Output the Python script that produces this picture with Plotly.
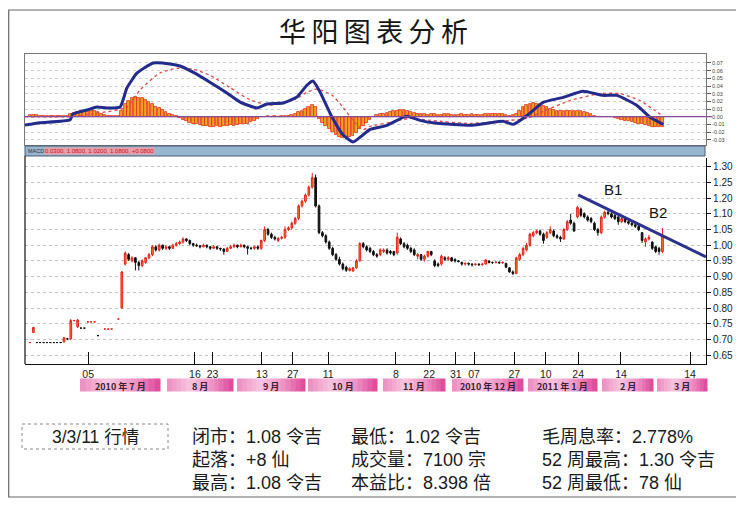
import plotly.graph_objects as go

# page body has an 8px margin; figure sized to fill the rest of the 744x505 window
OX, OY = 8, 8
W, H = 744 - OX, 505 - OY

# ---------------- DATA ----------------
# daily bars (trading-day index), None = no trade
opens = [0.74, 0.772, 0.74, 0.74, 0.74, 0.74, 0.74, 0.74, 0.74, 0.74,
         0.742, 0.752, 0.752, 0.81, 0.79, 0.786, 0.786, 0.806, 0.806, 0.806,
         0.762, None, 0.783, 0.783, 0.783, None, 0.815, 0.85, 0.99, 1.02,
         1.0, 1.01, 0.995, 0.985, 0.995, 1.01, 1.02, 1.045, 1.035, 1.05,
         1.04, 1.045, 1.04, 1.05, 1.055, 1.06, 1.07, 1.065, 1.055, 1.05,
         1.048, 1.045, 1.05, 1.045, 1.04, 1.045, 1.04, 1.038, 1.03, 1.04,
         1.045, 1.05, 1.045, 1.05, 1.045, 1.04, 1.04, 1.045, 1.04, 1.065,
         1.1, 1.085, 1.075, 1.065, 1.072, 1.075, 1.1, 1.105, 1.12, 1.135,
         1.175, 1.19, 1.21, 1.235, 1.265, 1.175, 1.09, 1.08, 1.06, 1.04,
         1.02, 1.005, 0.99, 0.98, 0.97, 0.968, 0.978, 1.0, 1.055, 1.045,
         1.04, 1.03, 1.02, 1.02, 1.03, 1.035, 1.03, 1.03, 1.025, 1.07,
         1.055, 1.05, 1.04, 1.035, 1.015, 1.02, 1.005, 1.015, 1.03, 1.0,
         0.99, 0.99, 1.01, 1.005, 1.01, 1.005, 1.0, 0.995, 0.99, 0.992,
         0.99, 0.988, 0.99, 0.988, 0.99, 1.0, 0.995, 0.995, 0.996, 0.994,
         0.992, 0.978, 0.965, 0.96, 1.005, 1.02, 1.035, 1.05, 1.08, 1.09,
         1.095, 1.085, 1.075, 1.09, 1.095, 1.08, 1.075, 1.07, 1.1, 1.13,
         1.12, 1.14, 1.165, 1.15, 1.14, 1.135, 1.12, 1.1, 1.09, 1.14,
         1.155, 1.15, 1.145, 1.14, 1.125, 1.135, 1.125, 1.12, 1.115, 1.11,
         1.09, 1.06, 1.07, 1.06, 1.045, 1.04, 1.03]
highs = [0.74, 0.79, 0.74, 0.74, 0.74, 0.74, 0.74, 0.74, 0.74, 0.74,
         0.758, 0.755, 0.815, 0.812, 0.815, 0.786, 0.786, 0.806, 0.806, 0.806,
         0.762, None, 0.783, 0.783, 0.783, None, 0.815, 0.968, 1.03, 1.025,
         1.015, 1.012, 1.0, 1.005, 1.012, 1.025, 1.05, 1.05, 1.055, 1.052,
         1.05, 1.048, 1.055, 1.06, 1.065, 1.075, 1.072, 1.068, 1.058, 1.055,
         1.05, 1.055, 1.052, 1.048, 1.05, 1.048, 1.042, 1.04, 1.045, 1.05,
         1.055, 1.052, 1.055, 1.052, 1.048, 1.045, 1.048, 1.05, 1.068, 1.11,
         1.105, 1.09, 1.08, 1.075, 1.08, 1.11, 1.11, 1.125, 1.14, 1.18,
         1.195, 1.215, 1.24, 1.28, 1.275, 1.18, 1.095, 1.085, 1.065, 1.045,
         1.025, 1.013, 0.995, 0.985, 0.98, 0.98, 1.005, 1.06, 1.06, 1.05,
         1.045, 1.035, 1.025, 1.04, 1.04, 1.04, 1.035, 1.032, 1.09, 1.075,
         1.06, 1.055, 1.045, 1.04, 1.025, 1.022, 1.02, 1.032, 1.032, 1.005,
         0.995, 1.02, 1.015, 1.015, 1.012, 1.008, 1.003, 0.998, 0.995, 0.995,
         0.993, 0.992, 0.992, 0.992, 1.006, 1.0, 0.998, 0.998, 0.998, 0.998,
         0.994, 0.98, 0.97, 1.013, 1.025, 1.045, 1.057, 1.09, 1.095, 1.1,
         1.1, 1.09, 1.095, 1.11, 1.1, 1.085, 1.08, 1.105, 1.13, 1.15,
         1.125, 1.175, 1.17, 1.155, 1.145, 1.14, 1.125, 1.105, 1.145, 1.16,
         1.16, 1.155, 1.15, 1.145, 1.14, 1.14, 1.13, 1.125, 1.12, 1.115,
         1.092, 1.075, 1.083, 1.062, 1.048, 1.045, 1.105]
lows = [0.74, 0.77, 0.74, 0.74, 0.74, 0.74, 0.74, 0.74, 0.74, 0.74,
        0.74, 0.748, 0.748, 0.808, 0.786, 0.786, 0.786, 0.806, 0.806, 0.806,
        0.762, None, 0.783, 0.783, 0.783, None, 0.815, 0.848, 0.985, 1.0,
        0.995, 0.97, 0.97, 0.98, 0.99, 1.005, 1.015, 1.03, 1.03, 1.035,
        1.035, 1.035, 1.038, 1.045, 1.05, 1.055, 1.06, 1.05, 1.045, 1.045,
        1.04, 1.043, 1.04, 1.035, 1.038, 1.035, 1.032, 1.02, 1.028, 1.038,
        1.042, 1.04, 1.043, 1.04, 1.02, 1.035, 1.035, 1.035, 1.035, 1.06,
        1.08, 1.07, 1.065, 1.06, 1.068, 1.07, 1.095, 1.1, 1.115, 1.13,
        1.17, 1.185, 1.205, 1.23, 1.17, 1.085, 1.075, 1.055, 1.035, 1.015,
        1.0, 0.985, 0.97, 0.965, 0.966, 0.965, 0.975, 0.998, 1.04, 1.03,
        1.025, 1.015, 1.01, 1.015, 1.025, 1.02, 1.02, 1.015, 1.02, 1.05,
        1.04, 1.035, 1.025, 1.015, 1.005, 1.0, 0.998, 1.01, 1.015, 0.98,
        0.98, 0.985, 1.0, 1.0, 0.998, 0.995, 0.995, 0.985, 0.985, 0.985,
        0.982, 0.985, 0.984, 0.985, 0.988, 0.992, 0.99, 0.992, 0.99, 0.99,
        0.977, 0.962, 0.955, 0.958, 1.0, 1.015, 1.03, 1.045, 1.075, 1.085,
        1.08, 1.055, 1.07, 1.085, 1.075, 1.07, 1.06, 1.067, 1.095, 1.115,
        1.093, 1.135, 1.14, 1.135, 1.125, 1.12, 1.095, 1.08, 1.085, 1.135,
        1.145, 1.135, 1.13, 1.115, 1.12, 1.12, 1.115, 1.11, 1.105, 1.095,
        1.057, 1.045, 1.065, 1.035, 1.025, 1.02, 1.025]
closes = [0.74, 0.788, 0.74, 0.74, 0.74, 0.74, 0.74, 0.74, 0.74, 0.74,
          0.755, 0.752, 0.81, 0.81, 0.812, 0.786, 0.786, 0.806, 0.806, 0.806,
          0.762, None, 0.783, 0.783, 0.783, None, 0.815, 0.965, 1.025, 1.005,
          1.01, 0.995, 0.985, 1.0, 1.01, 1.02, 1.045, 1.035, 1.05, 1.04,
          1.045, 1.04, 1.05, 1.055, 1.06, 1.07, 1.065, 1.055, 1.05, 1.048,
          1.045, 1.05, 1.045, 1.04, 1.045, 1.04, 1.038, 1.03, 1.04, 1.045,
          1.05, 1.045, 1.05, 1.045, 1.04, 1.04, 1.045, 1.04, 1.065, 1.1,
          1.085, 1.075, 1.07, 1.072, 1.075, 1.1, 1.105, 1.12, 1.135, 1.175,
          1.19, 1.21, 1.235, 1.265, 1.175, 1.09, 1.08, 1.06, 1.04, 1.02,
          1.005, 0.99, 0.975, 0.97, 0.975, 0.978, 1.0, 1.055, 1.045, 1.035,
          1.03, 1.02, 1.015, 1.035, 1.035, 1.025, 1.025, 1.02, 1.075, 1.055,
          1.045, 1.04, 1.03, 1.02, 1.02, 1.005, 1.015, 1.03, 1.02, 0.985,
          0.985, 1.015, 1.005, 1.01, 1.0, 1.0, 0.998, 0.99, 0.992, 0.99,
          0.988, 0.99, 0.988, 0.99, 1.003, 0.995, 0.995, 0.996, 0.994, 0.995,
          0.98, 0.965, 0.96, 1.01, 1.02, 1.04, 1.05, 1.085, 1.09, 1.095,
          1.085, 1.065, 1.09, 1.1, 1.08, 1.075, 1.07, 1.1, 1.125, 1.12,
          1.095, 1.17, 1.145, 1.14, 1.13, 1.125, 1.1, 1.09, 1.14, 1.155,
          1.15, 1.14, 1.135, 1.125, 1.135, 1.125, 1.12, 1.115, 1.11, 1.1,
          1.065, 1.07, 1.075, 1.04, 1.03, 1.03, 1.08]

# MACD histogram per bar
macd_hist = [0.002, 0.002, 0.002, 0.001,
             0.001, 0.001, 0.001, 0.001, 0.001, 0.001, 0.001, 0.001,
             0.003, 0.005, 0.006, 0.007, 0.008, 0.008, 0.008, 0.007, 0.006, 0.004, 0.002,
             0.001, 0.001, 0.001, 0.001,
             0.008, 0.016, 0.021, 0.025, 0.026, 0.025, 0.024, 0.022, 0.019, 0.016, 0.013,
             0.011, 0.009, 0.006, 0.004, 0.002, 0.001,
             -0.002, -0.004, -0.006, -0.008, -0.009, -0.010, -0.011, -0.012, -0.012,
             -0.013, -0.013, -0.012, -0.013, -0.012, -0.012, -0.011, -0.012, -0.011,
             -0.010, -0.010, -0.009, -0.007, -0.005, -0.003, -0.001,
             0.0, 0.001, 0.0, 0.001, 0.0, 0.001, 0.001, 0.001,
             0.002, 0.004, 0.006, 0.008, 0.010, 0.013, 0.015, 0.012,
             -0.003, -0.008, -0.012, -0.016, -0.020, -0.024, -0.026, -0.028, -0.028,
             -0.027, -0.025, -0.021, -0.016, -0.012, -0.008, -0.004, -0.001,
             0.002, 0.003, 0.004, 0.005, 0.006, 0.007, 0.008, 0.009, 0.009, 0.008,
             0.006, 0.005, 0.004,
             0.003, 0.003, 0.002, 0.003, 0.003, 0.002, 0.002, 0.003, 0.003, 0.002,
             0.002, 0.002, 0.003, 0.002, 0.002, 0.003, 0.002, 0.002, 0.002, 0.003,
             0.003, 0.004, 0.004, 0.004, 0.003, 0.002, 0.001, 0.002,
             0.004, 0.008, 0.012, 0.015, 0.017, 0.018, 0.017, 0.016, 0.014, 0.012,
             0.010, 0.009, 0.008, 0.007,
             0.007, 0.008, 0.008, 0.008, 0.007, 0.007, 0.006, 0.005, 0.003,
             0.001, 0.0, -0.001, 0.0, -0.001, -0.001, -0.002,
             -0.003, -0.004, -0.005, -0.006, -0.007, -0.008, -0.009, -0.010, -0.011,
             -0.012, -0.013, -0.014, -0.014, -0.013]

# DIF (blue) and DEA (red dotted) lines, sampled at bar index
dif_x = [-1.5, 2.9, 11.8, 12.6, 16.8, 19.7, 22.6, 26.5, 28.5, 31.5, 36.2, 39.1,
         44.1, 47.9, 52.9, 57.9, 61.8, 66.8, 69.7, 74.4, 78.5, 81.5, 83.2, 85.3,
         88.8, 92.1, 95.0, 97.9, 100.0, 105.0, 109.7, 111.2, 114.7, 119.7, 129.4,
         134.4, 139.1, 142.1, 146.2, 150.9, 156.8, 162.6, 168.5, 172.6, 178.5,
         182.4, 186.2]
dif_y = [-0.011, -0.008, -0.004, 0.0035, 0.0087, 0.0126, 0.0113, 0.0126, 0.0374,
         0.057, 0.070, 0.070, 0.066, 0.058, 0.045, 0.031, 0.019, 0.0113, 0.0166,
         0.0179, 0.0257, 0.0413, 0.0465, 0.0322, -0.0004, -0.0239, -0.033, -0.0239,
         -0.0166, -0.0113, -0.001, 0.0004, -0.0048, -0.0087, -0.0113, -0.0087,
         -0.0061, -0.010, 0.0017, 0.0186, 0.0252, 0.033, 0.0278, 0.0278, 0.0147,
         -0.0009, -0.010]
dea_x = [-1.5, 11.8, 20.6, 28.5, 32.4, 38.2, 43.2, 47.9, 52.9, 58.8, 64.7, 70.6,
         74.4, 78.5, 81.5, 84.4, 88.8, 92.1, 95.0, 97.9, 100.0, 105.9, 111.8,
         117.6, 129.4, 141.2, 146.2, 151.5, 158.8, 167.6, 173.5, 179.4, 183.8, 186.2]
dea_y = [0.0, 0.0, 0.005, 0.0126, 0.035, 0.057, 0.063, 0.062, 0.054, 0.038, 0.022,
         0.015, 0.018, 0.024, 0.032, 0.036, 0.028, 0.012, -0.005, -0.017, -0.0126,
         -0.0074, -0.0022, -0.0048, -0.0087, -0.0048, -0.002, 0.008, 0.021, 0.030,
         0.030, 0.021, 0.008, 0.0004]

# resistance (trend) line
trend_x = [161.2, 198.8]
trend_y = [1.21, 1.013]

# x-axis day ticks
tick_idx = [17.1, 48.5, 53.7, 68.2, 77.3, 87.7, 107.6, 117.4, 125.2, 130.6,
            142.4, 151.7, 161.2, 173.8, 194.1]
tick_labels = ["05", "16", "23", "13", "27", "11", "8", "22", "31", "07",
               "27", "10", "24", "14", "14"]

# price axis (as printed in the original)
price_tickvals = [1.30, 1.25, 1.20, 1.15, 1.10, 1.05, 1.00, 0.95, 0.90, 0.85, 0.80, 0.75, 0.70]
price_ticktext = ["1.30", "1.25", "1.20", "1.10", "1.05", "1.00", "0.95", "0.90",
                  "0.85", "0.80", "0.75", "0.70", "0.65"]
macd_tickvals = [0.07, 0.06, 0.05, 0.04, 0.03, 0.02, 0.01, 0.0, -0.01, -0.02, -0.03]
macd_ticktext = ["0.07", "0.06", "0.05", "0.04", "0.03", "0.02", "0.01", "0.00",
                 "-0.01", "-0.02", "-0.03"]

months = ["2010 年 7 月", "8 月", "9 月", "10 月", "11 月",
          "2010 年 12 月", "2011 年 1 月", "2 月", "3 月"]

title_text = "华\u2009阳\u2009图\u2009表\u2009分\u2009析"
info_left = "3/3/11 行情"
info_cols = [
    ["闭市：1.08 令吉", "起落：+8 仙", "最高：1.08 令吉"],
    ["最低：1.02 令吉", "成交量：7100 宗", "本益比：8.398 倍"],
    ["毛周息率：2.778%", "52 周最高：1.30 令吉", "52 周最低：78 仙"],
]
band_text = "0.0300, 1.0800, 1.0200, 1.0800, +0.0800"

# ---------------- LAYOUT HELPERS (window pixels -> paper) ----------------
def px(x):
    return (x - OX) / W

def py(y):
    return 1 - (y - OY) / H

CJK = "Noto Sans CJK SC, Liberation Sans, sans-serif"
LAT = "Liberation Sans, Noto Sans CJK SC, sans-serif"

bar_idx = list(range(len(closes)))
x_range = [-1.47, 198.8]

fig = go.Figure()

fig.add_trace(go.Candlestick(
    x=bar_idx, open=opens, high=highs, low=lows, close=closes,
    increasing=dict(line=dict(color="#e2231a", width=1), fillcolor="#f5822a"),
    decreasing=dict(line=dict(color="#111111", width=1), fillcolor="#111111"),
    whiskerwidth=0, xaxis="x", yaxis="y", showlegend=False, hoverinfo="skip"))

fig.add_trace(go.Scatter(
    x=trend_x, y=trend_y, mode="lines", xaxis="x", yaxis="y",
    line=dict(color="#2b3190", width=3), showlegend=False, hoverinfo="skip"))

fig.add_trace(go.Bar(
    x=bar_idx, y=macd_hist, xaxis="x2", yaxis="y2", width=0.8,
    marker=dict(color="#f4a11f", line=dict(color="#e0301e", width=0.8)),
    showlegend=False, hoverinfo="skip"))

fig.add_trace(go.Scatter(
    x=dea_x, y=dea_y, mode="lines", xaxis="x2", yaxis="y2",
    line=dict(color="#e04848", width=1.3, dash="dot", shape="spline", smoothing=0.6),
    showlegend=False, hoverinfo="skip"))

fig.add_trace(go.Scatter(
    x=dif_x, y=dif_y, mode="lines", xaxis="x2", yaxis="y2",
    line=dict(color="#232b8c", width=3, shape="spline", smoothing=0.45),
    showlegend=False, hoverinfo="skip"))

dom_x = [px(25), px(706)]

shapes = []
shapes.append(dict(type="rect", xref="paper", yref="paper",
                   x0=px(8.7), x1=px(737), y0=py(10), y1=py(497),
                   line=dict(color="#666666", width=1.2), layer="below"))
shapes.append(dict(type="rect", xref="paper", yref="paper",
                   x0=px(25), x1=px(705), y0=py(146), y1=py(156),
                   fillcolor="#98b6cf", line=dict(color="#4a5a72", width=1)))
shapes.append(dict(type="line", xref="paper", yref="paper",
                   x0=px(25), x1=px(25), y0=py(156), y1=py(364),
                   line=dict(color="#111111", width=1.2)))
shapes.append(dict(type="line", xref="paper", yref="y2",
                   x0=px(25), x1=px(712), y0=0, y1=0,
                   line=dict(color="#8a4a9a", width=1.3)))
shapes.append(dict(type="rect", xref="paper", yref="paper",
                   x0=px(22), x1=px(168), y0=py(424), y1=py(449),
                   line=dict(color="#888888", width=1, dash="dot")))

box_px = [(80, 160), (167, 233), (237, 305), (308, 377), (383, 445),
          (452, 523), (528, 597), (602, 653), (657, 707)]
stops = [(0.0, (236, 140, 191)), (0.35, (248, 198, 224)),
         (0.7, (238, 144, 195)), (1.0, (222, 68, 152))]

def grad(t):
    for (t0, c0), (t1, c1) in zip(stops[:-1], stops[1:]):
        if t <= t1:
            f = (t - t0) / (t1 - t0)
            return "rgb(%d,%d,%d)" % tuple(round(a + (b - a) * f) for a, b in zip(c0, c1))
    return "rgb(%d,%d,%d)" % stops[-1][1]

NS = 14
for (a, b) in box_px:
    w = (b - a) / NS
    for k in range(NS):
        shapes.append(dict(type="rect", xref="paper", yref="paper",
                           x0=px(a + k * w), x1=px(a + (k + 1) * w + 0.5),
                           y0=py(378.5), y1=py(391.5),
                           fillcolor=grad((k + 0.5) / NS), line=dict(width=0)))

annotations = []

def ann(text, x, y, size, family=CJK, color="#151515", xanchor="center", **kw):
    annotations.append(dict(text=text, x=px(x), y=py(y), xref="paper", yref="paper",
                            xanchor=xanchor, yanchor="middle", showarrow=False,
                            font=dict(family=family, size=size, color=color), **kw))

ann(title_text, 373, 31, 27)
ann("B1", 613, 190, 15, family=LAT, color="#111")
ann("B2", 658, 212, 15, family=LAT, color="#111")
ann("MACD", 26, 151, 5.5, family=LAT, color="#333", xanchor="left")
ann(band_text, 44, 151, 6, family=LAT, color="#cc1020", xanchor="left",
    bgcolor="#e7a0ab", borderpad=0)
for (a, b), m in zip(box_px, months):
    ann("<b>%s</b>" % m, (a + b) / 2, 386, 9, color="#3a2030")
ann(info_left, 95, 437, 17.5, family=LAT, color="#1a1a1a")
col_x = [190, 349, 540]
row_y = [437, 460, 483]
for cx, col in zip(col_x, info_cols):
    for ry, txt in zip(row_y, col):
        ann(txt, cx, ry, 18, family=LAT, color="#1a1a1a", xanchor="left")

fig.update_layout(
    width=W, height=H, margin=dict(l=0, r=0, t=0, b=0),
    paper_bgcolor="white", plot_bgcolor="white",
    showlegend=False, bargap=0,
    xaxis=dict(domain=dom_x, range=x_range, anchor="y",
               tickmode="array", tickvals=tick_idx, ticktext=tick_labels,
               ticks="inside", ticklen=12, tickcolor="#111", tickwidth=1,
               showline=True, linecolor="#111", linewidth=1.2,
               showgrid=False, zeroline=False,
               tickfont=dict(family=LAT, size=10.5, color="#222"),
               rangeslider=dict(visible=False)),
    yaxis=dict(domain=[py(364), py(158)], range=[0.6717, 1.3277], anchor="x",
               side="right", tickmode="array", tickvals=price_tickvals,
               ticktext=price_ticktext, ticks="outside", ticklen=4, tickcolor="#111",
               showline=True, linecolor="#111", linewidth=1.2,
               showgrid=True, gridcolor="#c4c4c4", griddash="dot", gridwidth=1,
               zeroline=False,
               tickfont=dict(family=LAT, size=10, color="#222")),
    xaxis2=dict(domain=dom_x, range=x_range, anchor="y2",
                showticklabels=False, ticks="", showline=True, mirror=True,
                linecolor="#777", linewidth=1, showgrid=False, zeroline=False),
    yaxis2=dict(domain=[py(145), py(54)], range=[-0.0369, 0.0817], anchor="x2",
                side="right", tickmode="array", tickvals=macd_tickvals,
                ticktext=macd_ticktext, ticks="outside", ticklen=4, tickcolor="#555",
                showline=True, mirror=True, linecolor="#777", linewidth=1,
                showgrid=True, gridcolor="#cfcfcf", griddash="dot", gridwidth=1,
                zeroline=False,
                tickfont=dict(family=LAT, size=5.5, color="#444")),
    shapes=shapes, annotations=annotations,
)

fig.write_html("out.html")
